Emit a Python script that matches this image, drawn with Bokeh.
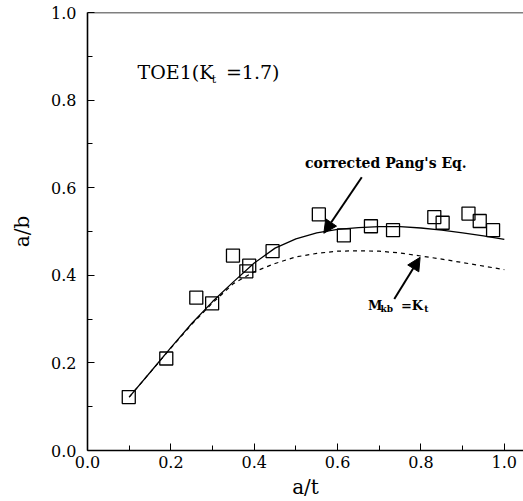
from bokeh.plotting import figure
from bokeh.models import Range1d, FixedTicker, Label, Arrow, NormalHead, Span, NumeralTickFormatter
from bokeh.embed import file_html
from bokeh.resources import INLINE

# ---- data ----
exp_x = [0.099, 0.189, 0.261, 0.299, 0.349, 0.381, 0.388, 0.444, 0.555, 0.615,
         0.680, 0.733, 0.832, 0.852, 0.914, 0.941, 0.973]
exp_y = [0.122, 0.210, 0.349, 0.336, 0.445, 0.409, 0.422, 0.455, 0.539, 0.491,
         0.512, 0.503, 0.533, 0.520, 0.541, 0.524, 0.503]

pang_x = [0.10, 0.15, 0.20, 0.25, 0.30, 0.35, 0.40, 0.45, 0.50, 0.55, 0.60,
          0.65, 0.70, 0.75, 0.80, 0.85, 0.90, 0.95, 1.00]
pang_y = [0.122, 0.178, 0.235, 0.290, 0.340, 0.385, 0.428, 0.462, 0.483, 0.497, 0.505,
          0.509, 0.511, 0.511, 0.508, 0.503, 0.497, 0.490, 0.482]

mkb_x = [0.10, 0.15, 0.20, 0.25, 0.30, 0.35, 0.40, 0.45, 0.50, 0.55, 0.60,
         0.65, 0.70, 0.75, 0.80, 0.85, 0.90, 0.95, 1.00]
mkb_y = [0.122, 0.178, 0.234, 0.288, 0.337, 0.381, 0.408, 0.427, 0.442, 0.450, 0.455,
         0.456, 0.455, 0.451, 0.444, 0.437, 0.429, 0.421, 0.413]

x_ticks = [0.0, 0.2, 0.4, 0.6, 0.8, 1.0]
x_minor = [0.1, 0.3, 0.5, 0.7, 0.9]
y_ticks = [0.0, 0.2, 0.4, 0.6, 0.8, 1.0]
y_minor = [0.1, 0.3, 0.5, 0.7, 0.9]

FONT = "DejaVu Serif"

p = figure(width=523, height=501, x_range=Range1d(0, 1.046), y_range=Range1d(0, 1.0),
           output_backend="svg", toolbar_location=None,
           min_border_left=87, min_border_right=0, min_border_top=12, min_border_bottom=51)
p.outline_line_color = None
p.grid.visible = False

for ax, t, m in ((p.xaxis[0], x_ticks, x_minor), (p.yaxis[0], y_ticks, y_minor)):
    ax.ticker = FixedTicker(ticks=t, minor_ticks=m)
    ax.formatter = NumeralTickFormatter(format="0.0")
    ax.major_tick_in = 7
    ax.major_tick_out = 0
    ax.minor_tick_in = 5
    ax.minor_tick_out = 0
    ax.axis_line_width = 1.6
    ax.axis_line_color = "black"
    ax.major_tick_line_color = "black"
    ax.minor_tick_line_color = "black"
    ax.major_label_text_font = FONT
    ax.major_label_text_font_size = "16px"
    ax.major_label_text_color = "black"
    ax.axis_label_text_font = FONT
    ax.axis_label_text_font_size = "20px"
    ax.axis_label_text_font_style = "normal"
    ax.axis_label_text_color = "black"
p.yaxis.major_label_standoff = 11
p.xaxis.major_label_standoff = 5
p.xaxis.axis_label = "a/t"
p.yaxis.axis_label = "a/b"
p.xaxis.axis_label_standoff = 4
p.yaxis.axis_label_standoff = 14

p.add_layout(Span(location=1.0, dimension="width", line_color="black", line_width=1.6))

p.line(pang_x, pang_y, line_color="black", line_width=1.3)
p.line(mkb_x, mkb_y, line_color="black", line_width=1.2, line_dash="4 4")
p.scatter(exp_x, exp_y, marker="square", size=13, fill_color=None,
          line_color="black", line_width=1.3)

def lab(x, y, text, size, bold=False, **kw):
    p.add_layout(Label(x=x, y=y, text=text, text_font=FONT, text_font_size=size,
                       text_font_style="bold" if bold else "normal",
                       text_color="black", **kw))

# title annotation
lab(0.120, 0.840, "TOE1(K", "19px")
lab(0.298, 0.832, "t", "11px")
lab(0.332, 0.840, "=1.7)", "19px")

# curve annotations
lab(0.522, 0.639, "corrected Pang's Eq.", "14px", bold=True)
lab(0.673, 0.313, "M", "13px", bold=True)
lab(0.703, 0.311, "kb", "9px", bold=True)
lab(0.752, 0.313, "=K", "13px", bold=True)
lab(0.808, 0.311, "t", "9px", bold=True)

p.add_layout(Arrow(x_start=0.658, y_start=0.624, x_end=0.567, y_end=0.496,
                   line_width=2, line_color="black",
                   end=NormalHead(size=13, fill_color="black", line_color="black")))
p.add_layout(Arrow(x_start=0.736, y_start=0.346, x_end=0.798, y_end=0.441,
                   line_width=2, line_color="black",
                   end=NormalHead(size=13, fill_color="black", line_color="black")))

open("out.html", "w").write(file_html(p, INLINE))
